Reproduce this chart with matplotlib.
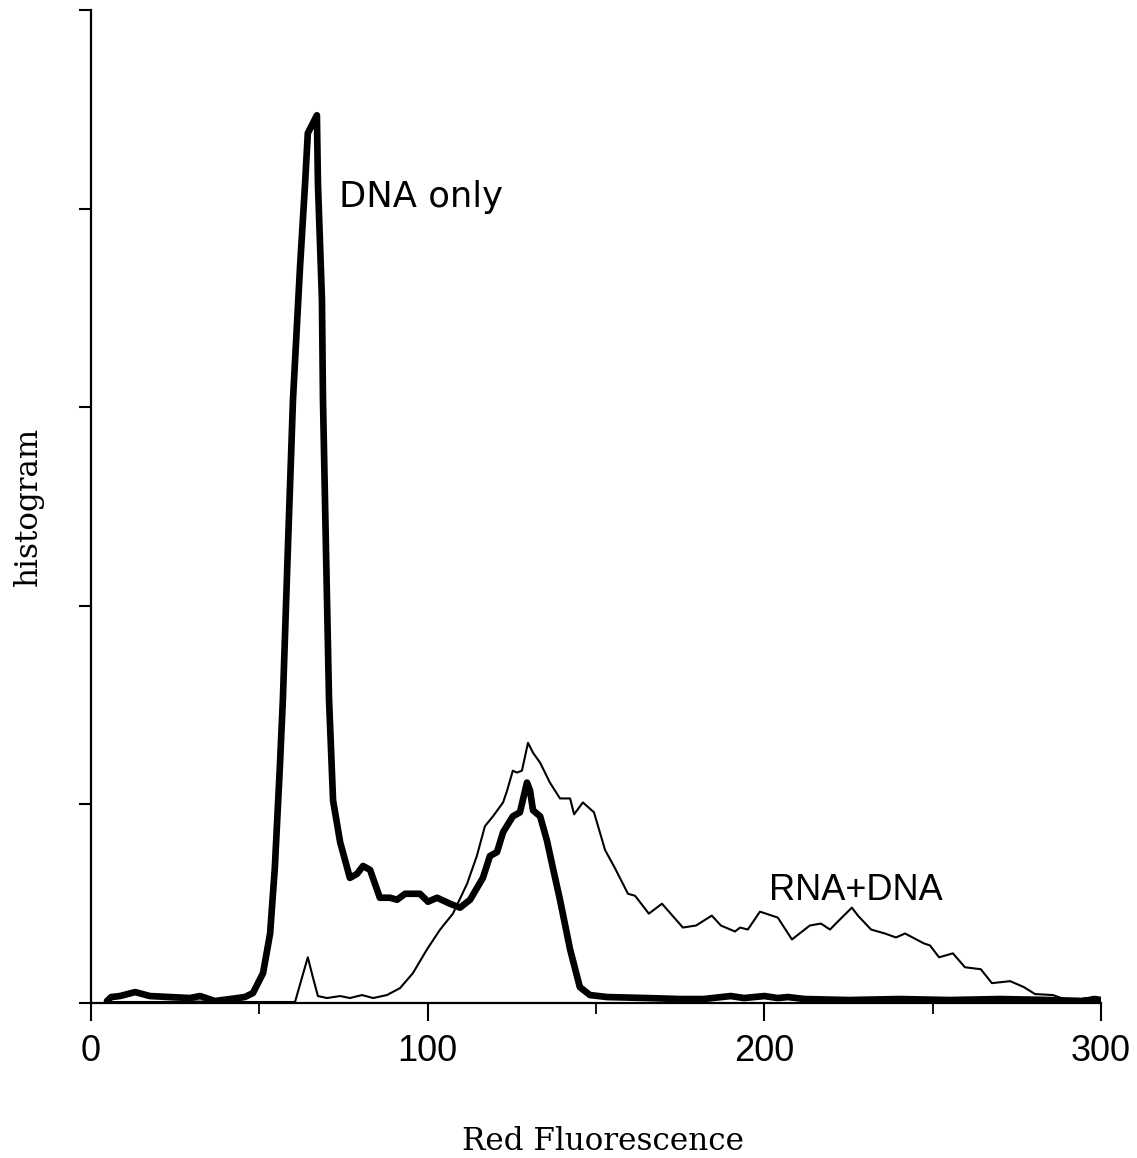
import matplotlib
matplotlib.use("Agg")
import matplotlib.pyplot as plt

# "DNA only" histogram (heavy trace)
dna_x = [4.75, 6.0, 8.6, 13.1, 17.5, 23.5, 29.4, 32.4, 36.8, 41.3, 45.7, 48.1,
         51.1, 53.2, 54.6, 56.1, 57.0, 58.5, 60.0, 62.1, 63.6, 64.4, 67.1,
         67.4, 68.6, 68.9, 69.8, 70.7, 71.9, 74.0, 76.9, 79.0, 80.8, 82.9,
         85.8, 88.8, 90.9, 93.3, 97.7, 100.1, 102.8, 106.6, 109.6, 112.6,
         116.4, 118.5, 120.6, 122.4, 125.3, 127.4, 129.5, 130.4, 131.3,
         133.4, 135.4, 137.2, 139.3, 142.3, 145.2, 148.2, 153.3,
         165.0, 175.0, 182.0, 190.0, 194.0, 200.0, 204.0, 207.0, 212.0,
         225.0, 240.0, 255.0, 270.0, 285.0, 295.0, 298.0, 300.0]
dna_y = [0.01, 0.03, 0.035, 0.055, 0.035, 0.03, 0.025, 0.035, 0.01, 0.02, 0.03, 0.05,
         0.15, 0.35, 0.68, 1.19, 1.53, 2.30, 3.04, 3.71, 4.13, 4.38, 4.47,
         4.13, 3.54, 3.04, 2.28, 1.53, 1.02, 0.81, 0.63, 0.65, 0.69, 0.67,
         0.53, 0.53, 0.52, 0.55, 0.55, 0.51, 0.53, 0.50, 0.48, 0.52,
         0.63, 0.74, 0.76, 0.86, 0.94, 0.96, 1.11, 1.07, 0.97,
         0.94, 0.82, 0.68, 0.52, 0.27, 0.08, 0.04, 0.03,
         0.025, 0.02, 0.02, 0.035, 0.025, 0.035, 0.025, 0.03, 0.02,
         0.015, 0.02, 0.015, 0.02, 0.015, 0.01, 0.02, 0.015]

# "RNA+DNA" histogram (light trace)
rna_x = [4.75, 15.0, 20.0, 30.0, 40.0, 50.0, 57.0, 60.6, 62.7, 64.4, 65.9, 67.4,
         70.1, 74.0, 76.9, 80.5, 83.8, 87.9, 91.8, 95.6, 99.8, 103.7, 107.5,
         111.7, 114.6, 117.0, 119.4, 122.4, 123.6, 125.3, 126.5, 128.0,
         129.8, 131.3, 133.4, 136.3, 139.3, 142.3, 143.5, 146.1, 149.4,
         152.7, 155.6, 159.5, 161.6, 165.7, 169.6, 175.8, 179.7, 184.4,
         187.1, 191.3, 192.8, 195.1, 198.7, 204.0, 208.2, 213.5, 216.8,
         219.5, 223.0, 226.0, 227.8, 231.7, 235.8, 239.1, 241.8, 247.4,
         249.2, 251.9, 256.0, 259.6, 264.3, 267.6, 273.0, 277.1, 280.4,
         285.7, 289.9, 292.0, 295.2, 298.2, 300.0]
rna_y = [0.005, 0.005, 0.005, 0.008, 0.005, 0.005, 0.005, 0.005, 0.13, 0.23, 0.13, 0.035,
         0.025, 0.035, 0.025, 0.04, 0.025, 0.04, 0.075, 0.15, 0.27, 0.37, 0.45,
         0.60, 0.74, 0.89, 0.94, 1.01, 1.07, 1.17, 1.16, 1.17,
         1.31, 1.26, 1.21, 1.11, 1.03, 1.03, 0.95, 1.01, 0.96,
         0.77, 0.68, 0.55, 0.54, 0.45, 0.50, 0.38, 0.39, 0.44,
         0.39, 0.36, 0.38, 0.37, 0.46, 0.43, 0.32, 0.39, 0.40,
         0.37, 0.43, 0.48, 0.44, 0.37, 0.35, 0.33, 0.35, 0.30,
         0.29, 0.23, 0.25, 0.18, 0.17, 0.10, 0.11, 0.08, 0.045,
         0.04, 0.015, 0.005, 0.025, 0.015, 0.01]

x_ticks = [0, 100, 200, 300]
x_tick_labels = ["0", "100", "200", "300"]
x_minor_ticks = [50, 150, 250]
y_ticks = [0, 1, 2, 3, 4, 5]

fig = plt.figure(figsize=(11.37, 11.58), dpi=100)
ax = fig.add_axes([91 / 1137, 1 - 1003 / 1158, 1010 / 1137, 993 / 1158])

ax.plot(rna_x, rna_y, color="black", lw=1.5, solid_joinstyle="round")
ax.plot(dna_x, dna_y, color="black", lw=4.8, solid_joinstyle="round",
        solid_capstyle="round")

ax.set_xlim(0, 300)
ax.set_ylim(0, 5)

for side in ("top", "right"):
    ax.spines[side].set_visible(False)
for side in ("left", "bottom"):
    ax.spines[side].set_linewidth(1.6)

ax.set_xticks(x_ticks)
ax.set_xticklabels(x_tick_labels)
ax.set_xticks(x_minor_ticks, minor=True)
ax.set_yticks(y_ticks)
ax.set_yticklabels([])

ax.tick_params(axis="x", which="major", direction="out", length=13, width=1.5,
               pad=9)
ax.tick_params(axis="x", which="minor", direction="out", length=8, width=1.3)
ax.tick_params(axis="y", which="major", direction="out", length=8.5, width=1.5)

for lbl in ax.get_xticklabels():
    lbl.set_fontfamily("Liberation Sans")
    lbl.set_fontsize(26)

ax.set_xlabel("Red Fluorescence", family="DejaVu Serif", fontsize=22.3)
ax.xaxis.set_label_coords(0.507, -0.124)
ax.set_ylabel("histogram", family="DejaVu Serif", fontsize=22.3)
ax.yaxis.set_label_coords(-0.047, 0.5)

ax.text(73.6, 4.01, "DNA only", family="DejaVu Sans", fontsize=25.5,
        ha="left", va="baseline")
ax.text(201.4, 0.52, "RNA+DNA", family="Liberation Sans", fontsize=26,
        ha="left", va="baseline")

fig.savefig("out.png", dpi=100)
